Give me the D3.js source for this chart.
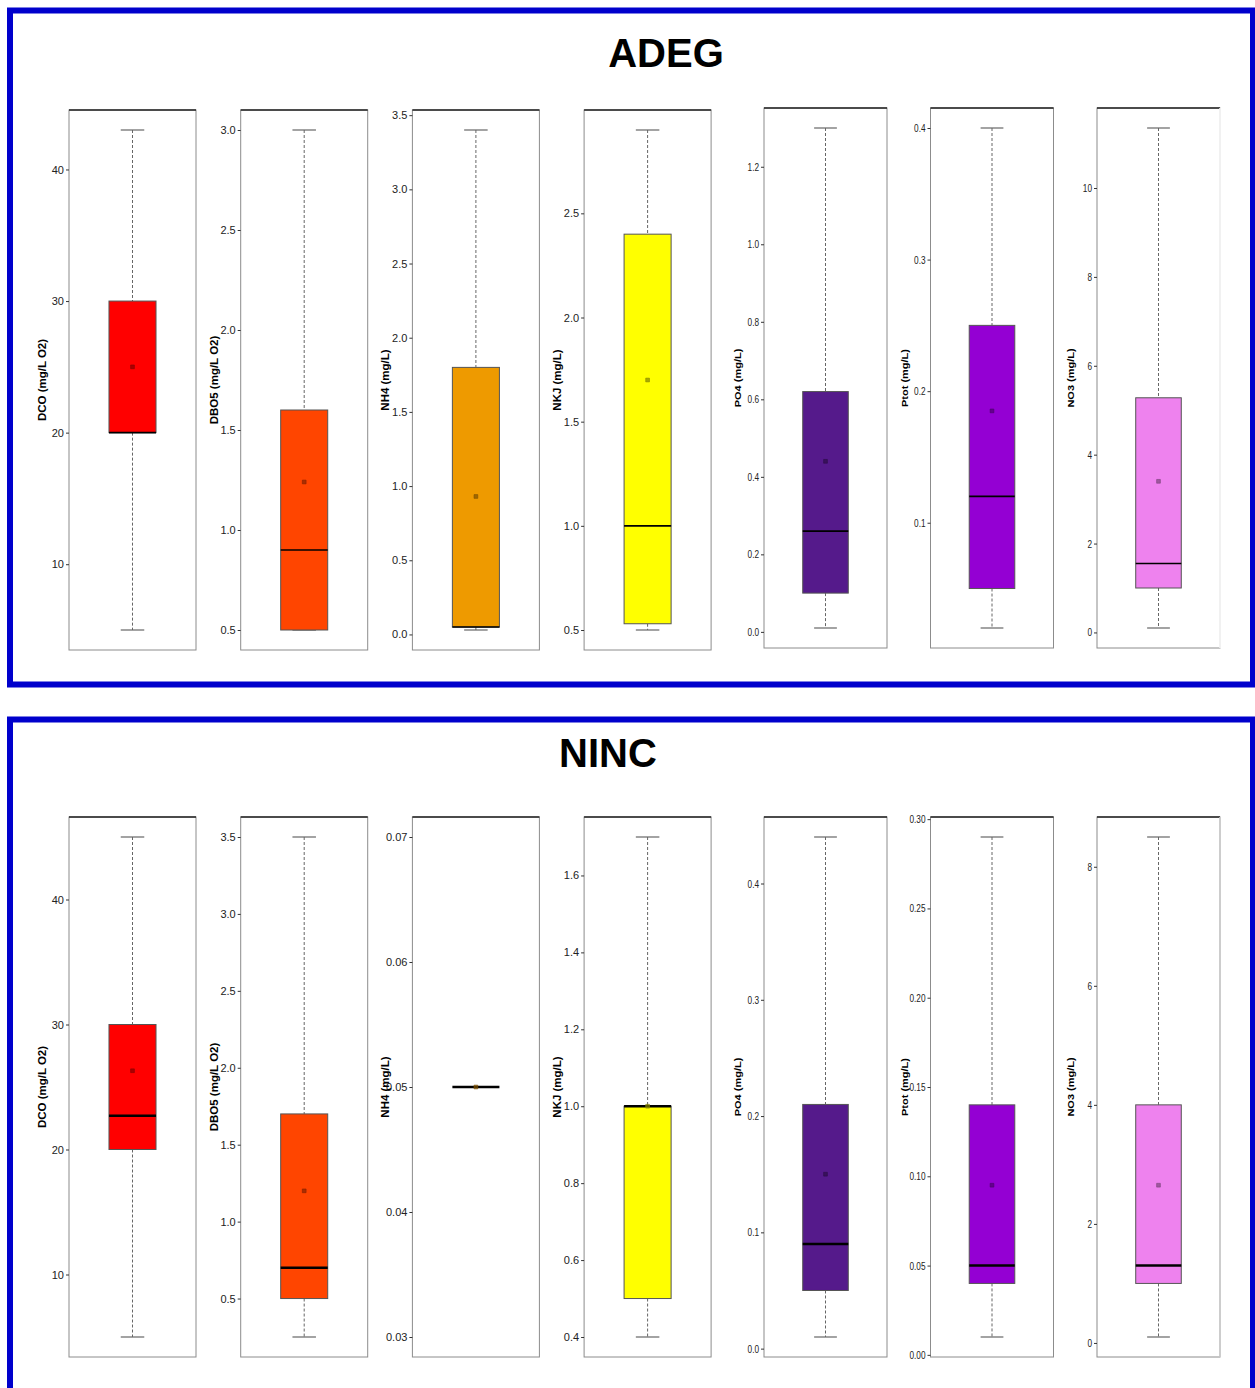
<!DOCTYPE html>
<html>
<head>
<meta charset="utf-8">
<script src="https://cdn.jsdelivr.net/npm/d3@7"></script>
<style>
  html, body { margin: 0; padding: 0; background: #fff; }
  svg { display: block; }
  text { font-family: "Liberation Sans", Arial, sans-serif; }
</style>
</head>
<body>
<svg id="chart" width="1255" height="1388"></svg>
<script>
// ---------- DATA ----------
const categories = ["DCO", "DBO5", "NH4", "NKJ", "PO4", "Ptot", "NO3"];
const axisTitles = ["DCO (mg/L O2)", "DBO5 (mg/L O2)", "NH4 (mg/L)", "NKJ (mg/L)", "PO4 (mg/L)", "Ptot (mg/L)", "NO3 (mg/L)"];
const fillColors = ["#FF0000", "#FF4500", "#EE9A00", "#FFFF00", "#551A8B", "#9400D3", "#EE82EE"];

// Site ADEG
const adegMin    = [5,  0.5,  0.03, 0.5,  0.01, 0.02,  0.1];
const adegQ1     = [20, 0.5,  0.05, 0.53, 0.10, 0.05,  1.0];
const adegMedian = [20, 0.9,  0.05, 1.0,  0.26, 0.12,  1.55];
const adegQ3     = [30, 1.6,  1.8,  2.4,  0.62, 0.25,  5.28];
const adegMax    = [43, 3.0,  3.4,  2.9,  1.3,  0.4,   11.35];
const adegMean   = [25, 1.24, 0.93, 1.7,  0.44, 0.185, 3.4];
const adegTicks = [
  ["10", "20", "30", "40"],
  ["0.5", "1.0", "1.5", "2.0", "2.5", "3.0"],
  ["0.0", "0.5", "1.0", "1.5", "2.0", "2.5", "3.0", "3.5"],
  ["0.5", "1.0", "1.5", "2.0", "2.5"],
  ["0.0", "0.2", "0.4", "0.6", "0.8", "1.0", "1.2"],
  ["0.1", "0.2", "0.3", "0.4"],
  ["0", "2", "4", "6", "8", "10"]
];

// Site NINC
const nincMin    = [5,    0.25, 0.05, 0.4, 0.01, 0.01,  0.1];
const nincQ1     = [20,   0.5,  0.05, 0.5, 0.05, 0.04,  1.0];
const nincMedian = [22.7, 0.7,  0.05, 1.0, 0.09, 0.05,  1.3];
const nincQ3     = [30,   1.7,  0.05, 1.0, 0.21, 0.14,  4.0];
const nincMax    = [45,   3.5,  0.05, 1.7, 0.44, 0.29,  8.5];
const nincMean   = [26.3, 1.2,  0.05, 1.0, 0.15, 0.095, 2.65];
const nincTicks = [
  ["10", "20", "30", "40"],
  ["0.5", "1.0", "1.5", "2.0", "2.5", "3.0", "3.5"],
  ["0.03", "0.04", "0.05", "0.06", "0.07"],
  ["0.4", "0.6", "0.8", "1.0", "1.2", "1.4", "1.6"],
  ["0.0", "0.1", "0.2", "0.3", "0.4"],
  ["0.00", "0.05", "0.10", "0.15", "0.20", "0.25", "0.30"],
  ["0", "2", "4", "6", "8"]
];

const sites = [
  { name: "ADEG", min: adegMin, q1: adegQ1, median: adegMedian, q3: adegQ3, max: adegMax, mean: adegMean, ticks: adegTicks },
  { name: "NINC", min: nincMin, q1: nincQ1, median: nincMedian, q3: nincQ3, max: nincMax, mean: nincMean, ticks: nincTicks }
];

// ---------- LAYOUT ----------
const svg = d3.select("#chart");
const frameTop = [10.5, 719.5];
const frameH = [674, 700];
const titleX = [666, 608];
const titleY = [67, 767];
const panelTop = [[110, 108], [817, 817]];
const panelH = 540;

function panelX(i) { return i < 4 ? 69 + i * 171.7 : 764 + (i - 4) * 166.5; }
function panelW(i) { return i < 4 ? 127 : 123; }

sites.forEach((site, r) => {
  // blue frame
  svg.append("rect")
    .attr("x", 10).attr("y", frameTop[r])
    .attr("width", 1243).attr("height", frameH[r])
    .attr("fill", "none").attr("stroke", "#0000CC").attr("stroke-width", 6);

  svg.append("text")
    .attr("x", titleX[r]).attr("y", titleY[r])
    .attr("text-anchor", "middle")
    .attr("font-size", 40).attr("font-weight", "bold")
    .attr("fill", "#000")
    .text(site.name);

  categories.forEach((cat, i) => {
    const x0 = panelX(i), w = panelW(i);
    const y0 = panelTop[r][i < 4 ? 0 : 1];
    const narrow = i >= 4;
    const g = svg.append("g").attr("transform", `translate(${x0},${y0})`);

    const tickVals = site.ticks[i].map(Number);
    let lo = Math.min(site.min[i], site.mean[i]);
    let hi = Math.max(site.max[i], site.mean[i]);
    if (hi - lo === 0) { lo = d3.min(tickVals); hi = d3.max(tickVals); }
    const pad = (hi - lo) * 0.04;
    const y = d3.scaleLinear().domain([lo - pad, hi + pad]).range([panelH, 0]);
    const x = d3.scaleBand().domain([cat]).range([0, w]).paddingInner(0).paddingOuter(0.85);

    // panel border
    g.append("rect").attr("x", 0).attr("y", 0).attr("width", w).attr("height", panelH)
      .attr("fill", "#fff").attr("stroke", "#8c8c8c").attr("stroke-width", 1);
    g.append("line").attr("x1", 0).attr("x2", w).attr("y1", 0).attr("y2", 0)
      .attr("stroke", "#222").attr("stroke-width", 1.3);
    if (i === 6) {
      g.append("line").attr("x1", w).attr("x2", w).attr("y1", 0).attr("y2", panelH)
        .attr("stroke", r === 0 ? "#fff" : "#cfcfcf").attr("stroke-width", 1.5);
    }

    // axis
    const axis = d3.axisLeft(y).tickValues(tickVals)
      .tickFormat((d, k) => site.ticks[i][k]).tickSize(3).tickPadding(2);
    const ag = g.append("g").call(axis);
    ag.select(".domain").remove();
    ag.selectAll(".tick line").attr("stroke", "#333");
    ag.selectAll(".tick text")
      .attr("fill", "#222")
      .attr("font-size", 11)
      .attr("font-family", '"Liberation Sans", Arial, sans-serif');
    if (narrow) {
      ag.selectAll(".tick text")
        .attr("transform", "translate(-5,0) scale(0.75,1) translate(5,0)");
    }

    // axis title
    const tx = -23, ty = panelH / 2;
    g.append("text")
      .attr("transform", narrow
        ? `translate(${tx},${ty}) scale(0.8,1) rotate(-90)`
        : `translate(${tx},${ty}) rotate(-90)`)
      .attr("text-anchor", "middle")
      .attr("font-size", narrow ? 11 : 11.5)
      .attr("font-weight", "bold")
      .attr("fill", "#000")
      .text(axisTitles[i]);

    // box plot
    const cx = x(cat) + x.bandwidth() / 2;
    const bw = x.bandwidth();
    const capW = bw / 2;
    const fill = fillColors[i];

    // whiskers
    g.append("line").attr("x1", cx).attr("x2", cx)
      .attr("y1", y(site.max[i])).attr("y2", y(site.q3[i]))
      .attr("stroke", "#666").attr("stroke-dasharray", "3,2");
    g.append("line").attr("x1", cx).attr("x2", cx)
      .attr("y1", y(site.q1[i])).attr("y2", y(site.min[i]))
      .attr("stroke", "#666").attr("stroke-dasharray", "3,2");
    // caps
    [site.max[i], site.min[i]].forEach(v => {
      g.append("line").attr("x1", cx - capW / 2).attr("x2", cx + capW / 2)
        .attr("y1", y(v)).attr("y2", y(v))
        .attr("stroke", "#666").attr("stroke-width", 1.2);
    });
    // box
    g.append("rect")
      .attr("x", x(cat)).attr("width", bw)
      .attr("y", y(site.q3[i])).attr("height", Math.max(0, y(site.q1[i]) - y(site.q3[i])))
      .attr("fill", fill).attr("stroke", "#555").attr("stroke-width", 1);
    // median
    g.append("line").attr("x1", x(cat)).attr("x2", x(cat) + bw)
      .attr("y1", y(site.median[i])).attr("y2", y(site.median[i]))
      .attr("stroke", "#000").attr("stroke-width", r === 0 ? 1.6 : 2.4);
    // mean marker
    const mc = d3.color(fill).darker(1.8);
    g.append("path")
      .attr("d", d3.symbol(d3.symbolSquare, 14)())
      .attr("transform", `translate(${cx},${y(site.mean[i])})`)
      .attr("fill", mc).attr("fill-opacity", 0.7)
      .attr("stroke", mc).attr("stroke-width", 0.6);
  });
});
</script>
</body>
</html>
